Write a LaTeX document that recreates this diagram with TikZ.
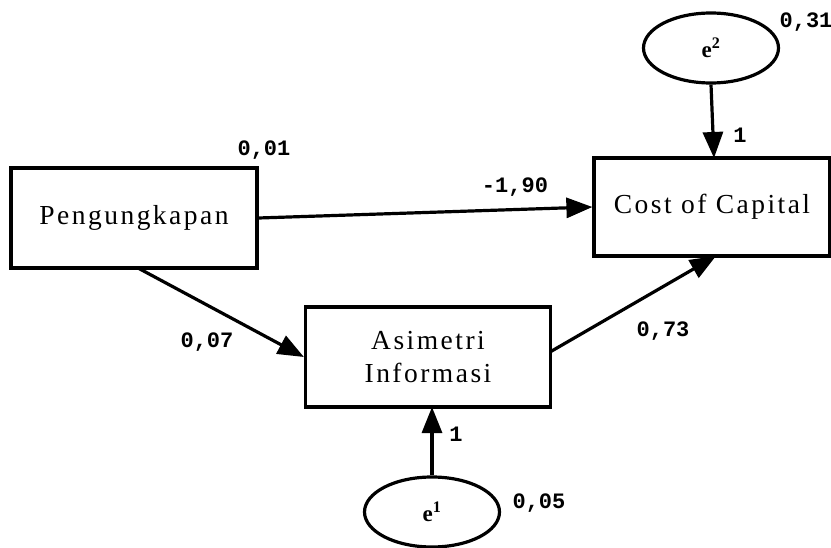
\documentclass[tikz,border=0pt]{standalone}
\usepackage{fontspec}
\setmainfont{Liberation Serif}
\newfontfamily\numfont{Liberation Mono}
\newfontfamily\boxfont[LetterSpace=9]{Liberation Serif}
\usetikzlibrary{arrows.meta,shapes.geometric}
\begin{document}
\begin{tikzpicture}[x=1pt,y=-1pt,
  box/.style={draw,line width=3.2pt,inner sep=0pt,font=\boxfont\fontsize{27.5}{29}\selectfont},
  err/.style={draw,ellipse,line width=3.2pt,inner sep=0pt,minimum width=135pt,minimum height=70pt,font=\fontsize{23}{24}\selectfont\bfseries},
  lab/.style={font=\numfont\fontsize{22}{24}\selectfont\bfseries,inner sep=0pt},
  conn/.style={line width=3.2pt,-{Triangle[length=26pt,width=20pt]}}]
\useasboundingbox (0,0) rectangle (831,548);
\node[box,minimum width=246pt,minimum height=100pt] (p) at (134,218) {Pengungkapan};
\node[box,minimum width=236pt,minimum height=98pt] (c) at (712,207) {Cost of Capital};
\node[box,minimum width=245pt,minimum height=100pt,align=center] (a) at (428,357) {Asimetri\\[4pt]Informasi};
\node[err] (e2) at (711,48) {e$^{\mathbf{2}}$};
\node[err] (e1) at (432,512) {e$^{\mathbf{1}}$};
\coordinate (pb) at (138,268);
\coordinate (ct) at (714,158);
\coordinate (ab) at (432,407);
\coordinate (cb) at (716,256);
\coordinate (ar) at (550,352);
\draw[conn] (e2.south) -- (ct);
\draw[conn] (e1.north) -- (ab);
\draw[conn] (p.east) -- (c.west |- 0,207);
\draw[conn] (pb) -- (a.west);
\draw[conn] (ar) -- (cb);
\node[lab] (l031) at (806,22) {0,31};
\node[lab] (l1a) at (740,135) {1};
\node[lab] (l001) at (264,150) {0,01};
\node[lab] (l190) at (515,187) {-1,90};
\node[lab] (l007) at (207,342) {0,07};
\node[lab] (l073) at (663,331) {0,73};
\node[lab] (l1b) at (456,434) {1};
\node[lab] (l005) at (539,503) {0,05};
\end{tikzpicture}
\end{document}
